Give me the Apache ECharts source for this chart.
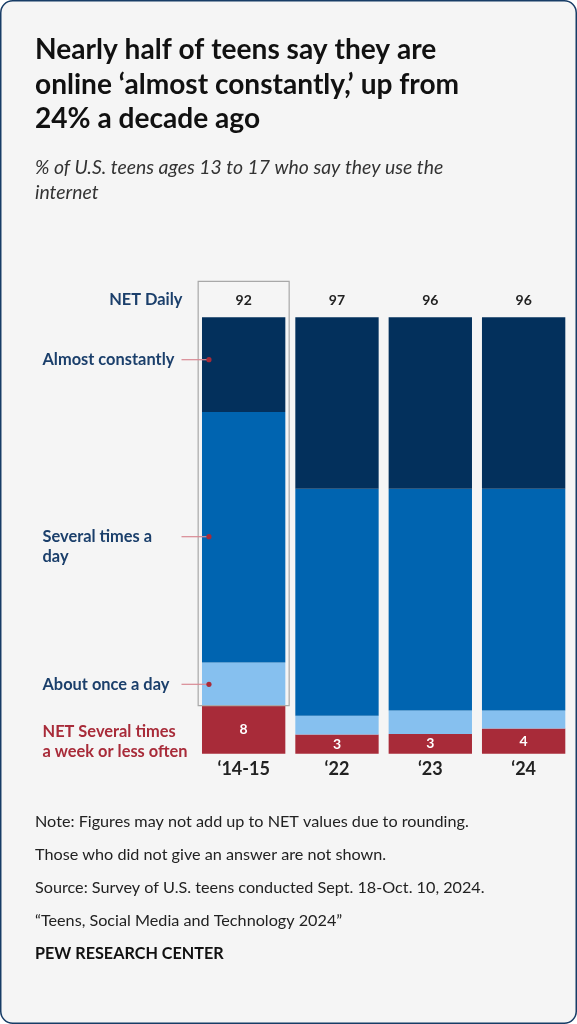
<!DOCTYPE html>
<html lang="en">
<head>
    <meta charset="UTF-8">
    <title>Teens online</title>
    <style>
        * { margin: 0; padding: 0; }
        body { background: #ffffff; }
        #main { width: 577px; height: 1024px; }
    </style>
    <script src="https://cdn.jsdelivr.net/npm/echarts@6/dist/echarts.min.js"></script>
</head>
<body>
<div id="main"></div>
<script>
    // values (segment heights, % of bar)
    var years = ['\u201814-15', '\u201822', '\u201823', '\u201824'];
    var constantly = [21.7, 39.3, 39.3, 39.3];
    var severalDay = [57.4, 52.0, 50.8, 50.8];
    var onceDay = [9.9, 4.3, 5.4, 4.1];
    var lessOften = [11.0, 4.4, 4.5, 5.8];
    // printed labels
    var netDaily = [92, 97, 96, 96];
    var lessLabels = [8, 3, 3, 4];

    var FONT = 'Lato, "Noto Sans", sans-serif';
    var NAVY = '#1b3f6b';
    var RED = '#a82b39';

    var myChart = echarts.init(document.getElementById('main'), null, { renderer: 'canvas' });

    // pick a font size so a line comes out as wide as in the reference
    var ctx = document.createElement('canvas').getContext('2d');
    function fit(text, weight, style, width) {
        ctx.font = style + ' ' + weight + ' 100px ' + FONT;
        return Math.round(100 * width / ctx.measureText(text).width * 10) / 10;
    }

    function txt(text, x, y, size, opts) {
        opts = opts || {};
        return {
            type: 'text',
            x: x,
            y: y,
            z: 10,
            style: {
                text: text,
                fontFamily: FONT,
                fontSize: size,
                fontWeight: opts.weight || 'normal',
                fontStyle: opts.style || 'normal',
                fill: opts.color || '#222',
                textAlign: opts.align || 'left',
                textVerticalAlign: 'middle'
            }
        };
    }

    var titleSize = fit('online \u2018almost constantly,\u2019 up from', 'bold', 'normal', 424);
    var subSize = fit('% of U.S. teens ages 13 to 17 who say they use the', 'normal', 'italic', 408);
    var noteSize = fit('Source: Survey of U.S. teens conducted Sept. 18-Oct. 10, 2024.', 'normal', 'normal', 451);
    var annSize = fit('Almost constantly', 'bold', 'normal', 132);

    var option = {
        animation: false,
        grid: { left: 197, right: 6.7, top: 317.3, bottom: 270.3 },
        xAxis: {
            type: 'category',
            data: years,
            axisLine: { show: false },
            axisTick: { show: false },
            axisLabel: {
                margin: 6,
                color: '#222',
                fontFamily: FONT,
                fontWeight: 'bold',
                fontSize: 18
            }
        },
        yAxis: { type: 'value', min: 0, max: 100, show: false },
        series: [
            {
                name: 'NET Several times a week or less often',
                type: 'bar',
                stack: 'all',
                barCategoryGap: '10.7%',
                itemStyle: { color: RED },
                label: {
                    show: true,
                    position: 'inside',
                    color: '#fff',
                    fontFamily: FONT,
                    fontWeight: 'bold',
                    fontSize: 14,
                    formatter: function (p) { return lessLabels[p.dataIndex]; }
                },
                data: lessOften
            },
            {
                name: 'About once a day',
                type: 'bar',
                stack: 'all',
                itemStyle: { color: '#86c0ef' },
                data: onceDay
            },
            {
                name: 'Several times a day',
                type: 'bar',
                stack: 'all',
                itemStyle: { color: '#0064b0' },
                data: severalDay
            },
            {
                name: 'Almost constantly',
                type: 'bar',
                stack: 'all',
                itemStyle: { color: '#03305c' },
                label: {
                    show: true,
                    position: 'top',
                    distance: 10,
                    color: '#222',
                    fontFamily: FONT,
                    fontWeight: 'bold',
                    fontSize: 14,
                    formatter: function (p) { return netDaily[p.dataIndex]; }
                },
                data: constantly
            }
        ]
    };

    myChart.setOption(option);

    // box around the first column and leader lines to its segments
    var c0 = myChart.convertToPixel({ xAxisIndex: 0 }, years[0]);
    var redTop = myChart.convertToPixel({ yAxisIndex: 0 }, lessOften[0]);
    var dotX = c0 - 34.7;

    function leader(y) {
        return [
            { type: 'line', z: 20, shape: { x1: 181.5, y1: y, x2: dotX, y2: y },
              style: { stroke: '#d98a93', lineWidth: 1.2 } },
            { type: 'circle', z: 21, shape: { cx: dotX, cy: y, r: 2.6 },
              style: { fill: '#a82b39' } }
        ];
    }

    var elements = [
        {
            type: 'rect', z: -10, silent: true,
            shape: { x: 0.75, y: 0.75, width: 575.5, height: 1022.5, r: 12 },
            style: { fill: '#f5f5f5', stroke: '#173c66', lineWidth: 1.5 }
        },
        {
            type: 'rect', z: 5,
            shape: { x: c0 - 45.5, y: 281.3, width: 91, height: redTop - 281.3 },
            style: { fill: 'none', stroke: '#a8a8a8', lineWidth: 1.2 }
        },
        txt('Nearly half of teens say they are', 35, 50, titleSize, { weight: 'bold', color: '#111' }),
        txt('online \u2018almost constantly,\u2019 up from', 35, 84.5, titleSize, { weight: 'bold', color: '#111' }),
        txt('24% a decade ago', 35, 119, titleSize, { weight: 'bold', color: '#111' }),
        txt('% of U.S. teens ages 13 to 17 who say they use the', 35, 168, subSize, { style: 'italic', color: '#333' }),
        txt('internet', 35, 192.5, subSize, { style: 'italic', color: '#333' }),
        txt('NET Daily', 182.5, 299.5, annSize, { weight: 'bold', color: NAVY, align: 'right' }),
        txt('Almost constantly', 42.5, 359.7, annSize, { weight: 'bold', color: NAVY }),
        txt('Several times a', 42.5, 536.7, annSize, { weight: 'bold', color: NAVY }),
        txt('day', 42.5, 556.7, annSize, { weight: 'bold', color: NAVY }),
        txt('About once a day', 42.5, 684.3, annSize, { weight: 'bold', color: NAVY }),
        txt('NET Several times', 42.5, 732, annSize, { weight: 'bold', color: RED }),
        txt('a week or less often', 42.5, 751.5, annSize, { weight: 'bold', color: RED }),
        txt('Note: Figures may not add up to NET values due to rounding.', 35, 821.7, noteSize),
        txt('Those who did not give an answer are not shown.', 35, 854.5, noteSize),
        txt('Source: Survey of U.S. teens conducted Sept. 18-Oct. 10, 2024.', 35, 887.7, noteSize),
        txt('\u201cTeens, Social Media and Technology 2024\u201d', 35, 921, noteSize),
        txt('PEW RESEARCH CENTER', 35, 954, noteSize, { weight: 'bold', color: '#111' })
    ];
    elements = elements.concat(leader(359.7), leader(536.7), leader(684.3));

    myChart.setOption({ graphic: { elements: elements } });
</script>
</body>
</html>
